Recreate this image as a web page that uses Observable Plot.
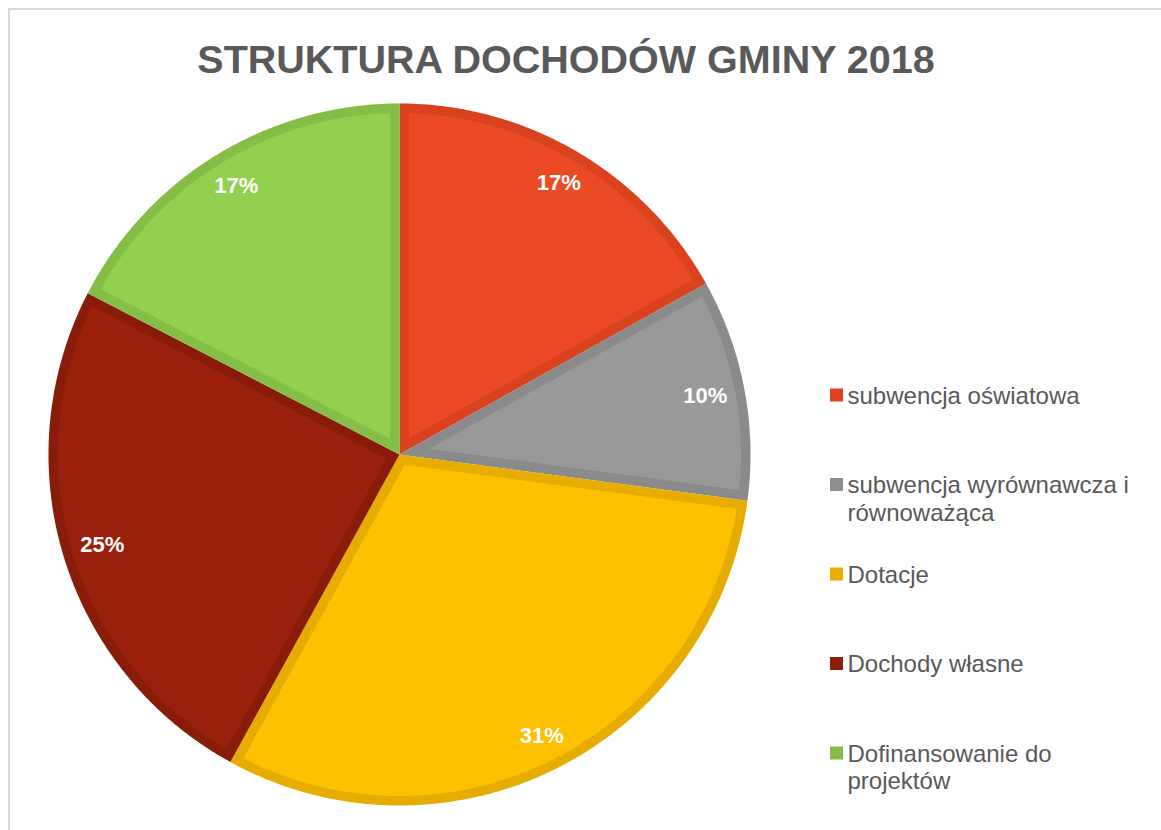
<!DOCTYPE html>
<html>
<head>
<meta charset="utf-8">
<script src="https://cdn.jsdelivr.net/npm/d3@7"></script>
<script src="https://cdn.jsdelivr.net/npm/@observablehq/plot@0.6"></script>
<style>
  html, body { margin: 0; padding: 0; background: #fff; }
  #chart { width: 1161px; height: 830px; }
</style>
</head>
<body>
<div id="chart"></div>
<script>
// ---- data ----
const title = "STRUKTURA DOCHODÓW GMINY 2018";
const categories = [
  "subwencja oświatowa",
  "subwencja wyrównawcza i równoważąca",
  "Dotacje",
  "Dochody własne",
  "Dofinansowanie do projektów"
];
const shares = [16.9, 10.2, 30.9, 24.6, 17.4];

// ---- styles ----
const fillColors   = ["#EB4A24", "#999999", "#FFC000", "#9A200B", "#92D050"];
const borderColors = ["#D8421F", "#8A8A8A", "#E6AD00", "#881C09", "#84BE47"];
const legendColors = ["#DE4221", "#8E8E8E", "#E8AE00", "#8E1E0A", "#84BE47"];
const textColor = "#595959";
const font = "Arial, 'Liberation Sans', sans-serif";

// ---- layout ----
const W = 1161, H = 830;
const cx = 399, cy = 454, R = 351, inset = 9.5;
const labelFont = 22, labelCorner = 335;
const legX = 830, legSq = 13, legY0 = 395, legStep = 89.5, legFont = 24, legMaxW = 293;

const arcs = d3.pie().sort(null).value(d => d)(shares);

function pt(a, r) {
  return {x: cx + r * Math.sin(a), y: cy - r * Math.cos(a)};
}

// text measuring for label placement and legend wrapping
const ctx = document.createElement("canvas").getContext("2d");
function measure(text, size, weight) {
  ctx.font = `${weight} ${size}px ${font}`;
  return ctx.measureText(text).width;
}
function wrap(text, size, maxW) {
  const words = text.split(" ");
  const lines = [];
  let cur = "";
  for (const w of words) {
    const t = cur ? cur + " " + w : w;
    if (cur && measure(t, size, "normal") > maxW) { lines.push(cur); cur = w; }
    else cur = t;
  }
  if (cur) lines.push(cur);
  return lines.join("\n");
}

const marks = [];
// chart area border
marks.push(Plot.ruleY([8.5], {x1: 8, x2: W, stroke: "#d9d9d9", strokeWidth: 2}));
marks.push(Plot.ruleX([8.5], {y1: 8, y2: H, stroke: "#d9d9d9", strokeWidth: 2}));

const labelData = [];
arcs.forEach((arc, i) => {
  const a0 = arc.startAngle, a1 = arc.endAngle, mid = (a0 + a1) / 2;
  const n = Math.max(4, Math.ceil((a1 - a0) / (Math.PI / 360)));
  const outer = [pt(0, 0)];
  for (let k = 0; k <= n; k++) outer.push(pt(a0 + (a1 - a0) * k / n, R));
  const delta = Math.asin(inset / (R - inset));
  const half = (a1 - a0) / 2;
  const inner = [pt(mid, inset / Math.sin(half))];
  const b0 = a0 + delta, b1 = a1 - delta;
  for (let k = 0; k <= n; k++) inner.push(pt(b0 + (b1 - b0) * k / n, R - inset));
  marks.push(Plot.line(outer, {x: "x", y: "y", fill: borderColors[i], stroke: "none", curve: "linear-closed"}));
  marks.push(Plot.line(inner, {x: "x", y: "y", fill: fillColors[i], stroke: "none", curve: "linear-closed"}));
  const text = Math.round(arc.value) + "%";
  const hw = measure(text, labelFont, "bold") / 2, hh = labelFont * 0.5;
  const dist = labelCorner - (hw * Math.abs(Math.sin(mid)) + hh * Math.abs(Math.cos(mid)));
  const lp = pt(mid, dist);
  labelData.push({x: lp.x, y: lp.y, text});
});

marks.push(Plot.text(labelData, {
  x: "x", y: "y", text: "text", fill: "white", fontSize: labelFont, fontWeight: "bold",
  textAnchor: "middle", lineAnchor: "middle"
}));

// title
marks.push(Plot.text([title], {
  x: () => 565.5, y: () => 60, text: d => d, fill: textColor, fontSize: 39.5, fontWeight: "bold",
  textAnchor: "middle", lineAnchor: "middle"
}));

// legend
const legend = categories.map((c, i) => ({
  name: wrap(c, legFont, legMaxW), color: legendColors[i], yc: legY0 + i * legStep
}));
marks.push(Plot.rect(legend, {
  x1: () => legX, x2: () => legX + legSq,
  y1: d => d.yc - legSq / 2, y2: d => d.yc + legSq / 2,
  fill: d => d.color, inset: 0
}));
marks.push(Plot.text(legend, {
  x: () => legX + legSq + 4, y: "yc", text: "name", fill: textColor, fontSize: legFont,
  textAnchor: "start", lineAnchor: "top", dy: -0.39 * legFont - 2, lineHeight: 1.15
}));

const chart = Plot.plot({
  width: W, height: H,
  margin: 0,
  x: {domain: [0, W], range: [0, W], axis: null},
  y: {domain: [0, H], range: [0, H], axis: null},
  style: {fontFamily: font, background: "white"},
  marks
});
document.getElementById("chart").appendChild(chart);
</script>
</body>
</html>
